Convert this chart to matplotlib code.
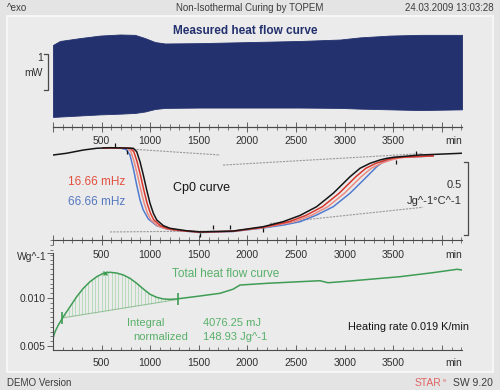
import numpy as np
import matplotlib
matplotlib.use('Agg')
import matplotlib.pyplot as plt
from matplotlib.ticker import MultipleLocator, FixedLocator, NullFormatter
from matplotlib.transforms import blended_transform_factory
from matplotlib.patches import Rectangle

plt.rcParams['font.family'] = ['Liberation Sans', 'DejaVu Sans']

# ---------------- data ----------------
x_major = [500, 1000, 1500, 2000, 2500, 3000, 3500]
x_labels = ['500', '1000', '1500', '2000', '2500', '3000', '3500']
x_unit = 'min'
x_max = 4207

# measured (modulated) heat flow: envelope of the oscillating signal, mW
hf_time = [0, 72, 278, 483, 689, 843, 946, 1049, 1152, 1512, 2026, 2540, 2952, 3158, 3466, 3775, 4207]
hf_upper = [0.68, 0.79, 0.87, 0.94, 0.97, 0.96, 0.87, 0.76, 0.72, 0.73, 0.76, 0.79, 0.83, 0.89, 0.94, 0.96, 0.96]
hf_lower = [-1.32, -1.31, -1.28, -1.25, -1.23, -1.21, -1.17, -1.10, -1.07, -1.06, -1.06, -1.06, -1.07, -1.09, -1.11, -1.13, -1.11]

# Cp curves (J g^-1 K^-1)
cp0_t = [3, 141, 312, 450, 586, 826, 861, 895, 929, 964, 998, 1032, 1067, 1135, 1203, 1272, 1375, 1512,
         1851, 2163, 2366, 2541, 2712, 2883, 3055, 3158, 3261, 3364, 3432, 3500, 3775, 4207]
cp0_c = [1.648, 1.660, 1.682, 1.694, 1.698, 1.694, 1.671, 1.602, 1.511, 1.408, 1.317, 1.249, 1.203, 1.164, 1.146, 1.139, 1.129, 1.121,
         1.127, 1.157, 1.191, 1.234, 1.294, 1.386, 1.499, 1.557, 1.591, 1.614, 1.625, 1.632, 1.648, 1.660]

cp_red_t = [514, 700, 796, 831, 865, 899, 934, 968, 1002, 1037, 1105, 1173, 1242, 1375, 1512, 1851, 2163,
            2426, 2601, 2772, 2943, 3115, 3218, 3321, 3424, 3492, 3560, 3909]
cp_red_c = [1.696, 1.697, 1.694, 1.671, 1.602, 1.511, 1.408, 1.317, 1.249, 1.203, 1.164, 1.146, 1.137, 1.127, 1.121, 1.126, 1.153,
            1.191, 1.234, 1.294, 1.386, 1.499, 1.557, 1.591, 1.614, 1.625, 1.632, 1.642]

cp_pink_t = [514, 680, 766, 801, 835, 869, 904, 938, 972, 1007, 1075, 1143, 1212, 1375, 1512, 1851, 2163,
             2481, 2656, 2827, 2998, 3170, 3273, 3376, 3479, 3547, 3615, 3909]
cp_pink_c = [1.696, 1.697, 1.694, 1.671, 1.602, 1.511, 1.408, 1.317, 1.249, 1.203, 1.164, 1.146, 1.136, 1.126, 1.120, 1.125, 1.150,
             1.191, 1.234, 1.294, 1.386, 1.499, 1.557, 1.591, 1.614, 1.625, 1.632, 1.642]

cp_blue_t = [514, 689, 751, 792, 826, 861, 895, 929, 980, 1067, 1170, 1272, 1512, 1851, 2160, 2366, 2541,
             2712, 2883, 3055, 3227, 3330, 3398, 3466, 3535, 3909]
cp_blue_c = [1.696, 1.696, 1.686, 1.648, 1.557, 1.442, 1.340, 1.271, 1.210, 1.164, 1.141, 1.132, 1.117, 1.124, 1.148, 1.168, 1.191,
             1.237, 1.294, 1.386, 1.499, 1.568, 1.602, 1.625, 1.632, 1.641]

# evaluation tangents (gray) : pairs of (t, c) end points
tangent_t = [[586, 1718], [1749, 3806], [586, 1666], [2232, 3806]]
tangent_c = [[1.698, 1.648], [1.579, 1.658], [1.121, 1.127], [1.179, 1.290]]

cp_mark_t = [638, 761, 1512, 1646, 1821, 2163, 3528, 3738]
cp_mark_c = [1.716, 1.670, 1.100, 1.153, 1.153, 1.134, 1.602, 1.664]

# total heat flow (W g^-1)
th_t = [0, 21, 55, 106, 175, 244, 312, 381, 450, 517, 586, 655, 723, 792, 861, 929, 998, 1067, 1135,
        1203, 1272, 1512, 1718, 1851, 1923, 2201, 2541, 2746, 2829, 3055, 3569, 3909, 4156, 4207]
th_v = [0.00580, 0.00649, 0.00719, 0.00805, 0.00909, 0.01014, 0.01101, 0.01170, 0.01222, 0.01257, 0.01268,
        0.01260, 0.01240, 0.01205, 0.01153, 0.01094, 0.01039, 0.01007, 0.00990, 0.00986, 0.00990, 0.01021,
        0.01049, 0.01091, 0.01135, 0.01153, 0.01170, 0.01180, 0.01159, 0.01177, 0.01222, 0.01264, 0.01299, 0.01292]

integ_t = [93, 1286]           # integration limits
integ_v = [0.00792, 0.00986]   # baseline end points
peak_t = 535
peak_v = 0.01257

y3_ticks = [0.005, 0.010]
y3_labels = ['0.005', '0.010']

# ---------------- figure ----------------
W, H = 500, 390
fig = plt.figure(figsize=(W / 100, H / 100), dpi=100)
fig.patch.set_facecolor('#e4e4e4')

def fx(x):
    return x / W

def fy(y):
    return 1 - y / H

fig.add_artist(Rectangle((fx(7), fy(372)), (493 - 7) / W, (372 - 16) / H, transform=fig.transFigure,
                         facecolor='#ebebeb', edgecolor='#f8f8f8', lw=1.3, zorder=0))

L, R = 53, 462
ax1 = fig.add_axes([fx(L), fy(127), (R - L) / W, (127 - 18) / H])
ax2 = fig.add_axes([fx(L), fy(240), (R - L) / W, (240 - 127) / H])
ax3 = fig.add_axes([fx(L), fy(350), (R - L) / W, (350 - 240) / H])

axcol = '#4a4a4a'
tcol = '#303030'
for ax in (ax1, ax2, ax3):
    ax.set_facecolor('none')
    ax.set_xlim(0, x_max)
    for s in ax.spines.values():
        s.set_visible(False)
        s.set_color(axcol)
        s.set_linewidth(0.8)
    ax.xaxis.set_major_locator(MultipleLocator(500))
    ax.xaxis.set_minor_locator(MultipleLocator(100))
    ax.xaxis.set_major_formatter(NullFormatter())
    ax.tick_params(axis='x', which='major', direction='in', length=3.5, width=0.6, color=axcol)
    ax.tick_params(axis='x', which='minor', direction='in', length=2.2, width=0.5, color=axcol)
    ax.tick_params(axis='y', left=False, labelleft=False)

# ---- top panel ----
ax1.set_ylim(-1.6, 1.428)
ax1.spines['bottom'].set_visible(True)
ax1.tick_params(axis='x', which='both', bottom=True, top=False, labelbottom=False)
navy = '#23316f'
ax1.fill_between(hf_time, hf_lower, hf_upper, color=navy, lw=0.6, edgecolor=navy)
ax1.plot([-93, -51, -51, -93], [0.43, 0.43, -0.57, -0.57], color=axcol, lw=0.9, clip_on=False)
fig.text(fx(43), fy(58), '1', ha='right', va='center', fontsize=7.5, color=tcol)
fig.text(fx(43), fy(73), 'mW', ha='right', va='center', fontsize=7.5, color=tcol)
fig.text(fx(245), fy(31), 'Measured heat flow curve', ha='center', va='center', fontsize=8.5,
         color=navy, fontweight='bold')

# ---- middle panel ----
ax2.set_ylim(1.0658, 1.8397)
ax2.spines['top'].set_visible(True)
ax2.spines['bottom'].set_visible(True)
ax2.tick_params(axis='x', which='both', top=True, bottom=True, labelbottom=False)
for tt, cc in zip(tangent_t, tangent_c):
    ax2.plot(tt, cc, color='#9a9a9a', lw=0.8, ls=(0, (2, 1)))
ax2.plot(cp_blue_t, cp_blue_c, color='#4f7bd0', lw=1.1)
ax2.plot(cp_pink_t, cp_pink_c, color='#ea8a80', lw=1.1)
ax2.plot(cp_red_t, cp_red_c, color='#d8362c', lw=1.1)
ax2.plot(cp0_t, cp0_c, color='#151515', lw=1.1)
ax2.plot(cp_mark_t, cp_mark_c, ls='none', marker='|', ms=3, color='#151515', mew=0.9)
ax2.plot([4228, 4269, 4269, 4228], [1.6, 1.6, 1.1, 1.1], color=axcol, lw=0.9, clip_on=False)
fig.text(fx(68), fy(182), '16.66 mHz', ha='left', va='center', fontsize=8.5, color='#e4503f')
fig.text(fx(68), fy(202), '66.66 mHz', ha='left', va='center', fontsize=8.5, color='#5577c0')
fig.text(fx(173), fy(188), 'Cp0 curve', ha='left', va='center', fontsize=9, color='#151515')
fig.text(fx(462), fy(185), '0.5', ha='right', va='center', fontsize=8, color=tcol)
fig.text(fx(462), fy(201), 'Jg^-1°C^-1', ha='right', va='center', fontsize=8, color=tcol)

# ---- bottom panel ----
green = '#3f9c55'
ax3.set_ylim(0.004583, 0.016042)
ax3.spines['bottom'].set_visible(True)
ax3.spines['left'].set_visible(True)
ax3.spines['left'].set_bounds(0.004583, 0.01469)
ax3.tick_params(axis='x', which='both', top=True, bottom=True, labelbottom=False)
ax3.yaxis.set_major_locator(FixedLocator(y3_ticks + [0.01469]))
ax3.set_yticklabels(y3_labels + [''])
ax3.yaxis.set_minor_locator(MultipleLocator(0.0005))
ax3.tick_params(axis='y', which='major', left=True, labelleft=True, direction='out', length=4,
                width=0.6, color=axcol, labelsize=7.5, labelcolor=tcol, pad=1.5)
ax3.tick_params(axis='y', which='minor', left=True, direction='out', length=2.2, width=0.5, color=axcol)

hatch_t = np.arange(integ_t[0], integ_t[1], 34.0)
hatch_base = np.interp(hatch_t, integ_t, integ_v)
hatch_top = np.interp(hatch_t, th_t, th_v)
ax3.vlines(hatch_t, hatch_base, hatch_top, color='#a8d7ae', lw=0.55)
ax3.plot(integ_t, integ_v, color='#8fbf95', lw=0.7)
ax3.plot(th_t, th_v, color=green, lw=1.1)
ax3.plot(integ_t, integ_v, ls='none', marker='|', ms=8, mew=1.2, color=green)
ax3.plot([peak_t], [peak_v], ls='none', marker='x', ms=3.5, mew=1.0, color=green)

fig.text(fx(47), fy(257), 'Wg^-1', ha='right', va='center', fontsize=7.5, color=tcol)
lg = '#58b06a'
fig.text(fx(172), fy(274), 'Total heat flow curve', ha='left', va='center', fontsize=8.5, color=lg)
fig.text(fx(127), fy(323), 'Integral', ha='left', va='center', fontsize=8, color=lg)
fig.text(fx(133), fy(337), 'normalized', ha='left', va='center', fontsize=8, color=lg)
fig.text(fx(203), fy(323), '4076.25 mJ', ha='left', va='center', fontsize=8, color=lg)
fig.text(fx(203), fy(337), '148.93 Jg^-1', ha='left', va='center', fontsize=8, color=lg)
fig.text(fx(348), fy(327), 'Heating rate 0.019 K/min', ha='left', va='center', fontsize=7.8, color='#151515')

# ---- x tick label rows ----
def label_row(ax, y_axes, off_px):
    tr = blended_transform_factory(ax.transData, ax.transAxes)
    off = off_px * 72 / 100
    for v, lab in zip(x_major, x_labels):
        ax.annotate(lab, xy=(v, y_axes), xycoords=tr, xytext=(0, off), textcoords='offset points',
                    ha='center', va='center', fontsize=7.5, color=tcol, annotation_clip=False)
    ax.annotate(x_unit, xy=(x_max, y_axes), xycoords=tr, xytext=(0, off), textcoords='offset points',
                ha='right', va='center', fontsize=7.5, color=tcol, annotation_clip=False)

label_row(ax2, 1.0, -14)
label_row(ax3, 1.0, -15)
label_row(ax3, 0.0, -13)

# ---- header / footer ----
hc = '#3c3c3c'
fig.text(fx(7), fy(8), '^exo', ha='left', va='center', fontsize=7, color=hc)
fig.text(fx(250), fy(8), 'Non-Isothermal Curing by TOPEM', ha='center', va='center', fontsize=7, color=hc)
fig.text(fx(494), fy(8), '24.03.2009 13:03:28', ha='right', va='center', fontsize=7, color=hc)
fig.text(fx(7), fy(383), 'DEMO Version', ha='left', va='center', fontsize=7, color=hc)
fig.text(fx(493), fy(383), 'SW 9.20', ha='right', va='center', fontsize=7.5, color=hc)
fig.text(fx(446), fy(380), 'e', ha='right', va='center', fontsize=4.5, color='#e07070')
fig.text(fx(441), fy(383), 'STAR', ha='right', va='center', fontsize=7.5, color='#e06464')

fig.savefig('out.png', dpi=100, facecolor=fig.get_facecolor())
